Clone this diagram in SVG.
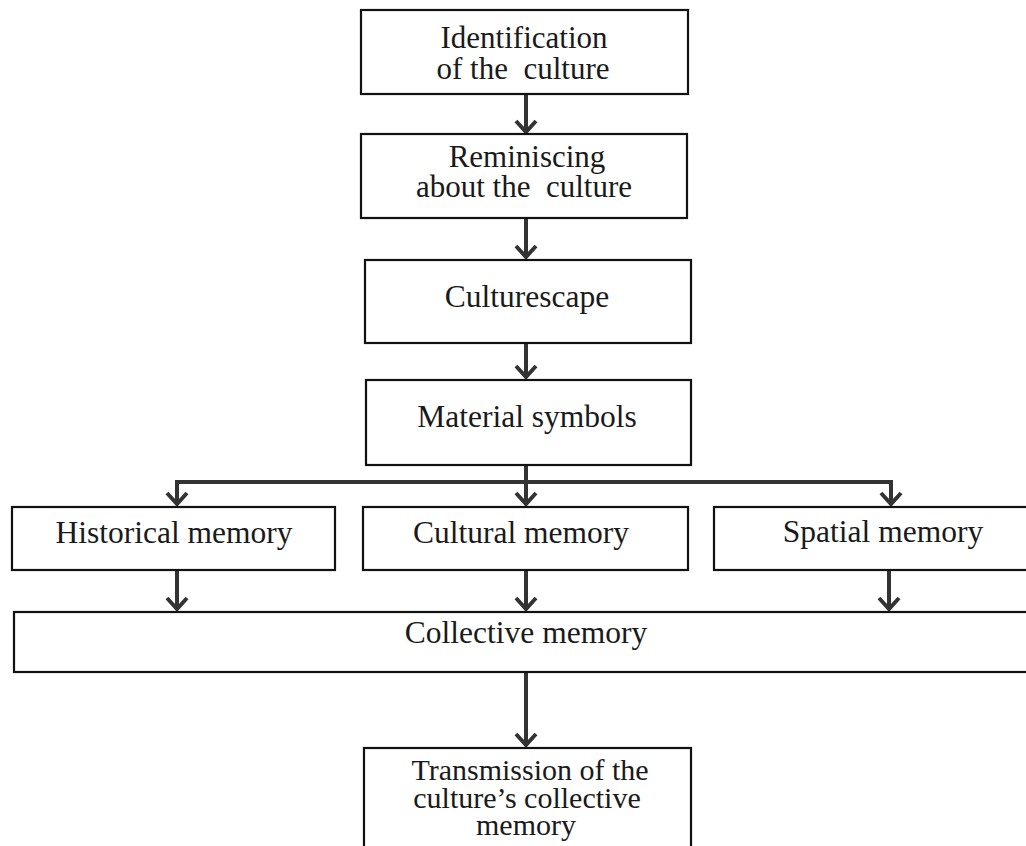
<svg xmlns="http://www.w3.org/2000/svg" width="1026" height="846" viewBox="0 0 1026 846">
<defs>
<style>
.box{fill:#fff;stroke:#111;stroke-width:2.2}
.t{font-family:"Liberation Serif","Times New Roman",serif;font-size:31.5px;fill:#1a1a1a;text-anchor:middle}
.m{font-size:31px}
.s{font-size:30px}
.c{fill:none;stroke:#333;stroke-width:4}
.h{fill:none;stroke:#333;stroke-width:4;stroke-linejoin:miter;stroke-linecap:butt}
</style>
</defs>
<rect width="1026" height="846" fill="#fff"/>
<g id="connectors">
<path class="c" d="M526,94 V133"/><path class="h" d="M516,121 L526,132 L536,121"/>
<path class="c" d="M526,218 V258"/><path class="h" d="M516,246 L526,257 L536,246"/>
<path class="c" d="M526,343 V378"/><path class="h" d="M516,366 L526,377 L536,366"/>
<path class="c" d="M526,465 V505"/><path class="h" d="M516,493 L526,504 L536,493"/>
<path class="c" d="M177,505 V482 H891 V505"/>
<path class="h" d="M167,493 L177,504 L187,493"/>
<path class="h" d="M881,493 L891,504 L901,493"/>
<path class="c" d="M177,570 V610"/><path class="h" d="M167,598 L177,609 L187,598"/>
<path class="c" d="M526,570 V610"/><path class="h" d="M516,598 L526,609 L536,598"/>
<path class="c" d="M889,570 V610"/><path class="h" d="M879,598 L889,609 L899,598"/>
<path class="c" d="M526,672 V746"/><path class="h" d="M516,734 L526,745 L536,734"/>
</g>
<g id="n1"><rect class="box" x="361" y="10" width="327" height="84"/>
<text class="t m" x="524" y="48">Identification</text>
<text class="t m" x="523" y="79" xml:space="preserve">of the  culture</text></g>
<g id="n2"><rect class="box" x="361" y="134" width="326" height="84"/>
<text class="t m" x="527" y="167">Reminiscing</text>
<text class="t m" x="524" y="197" xml:space="preserve">about the  culture</text></g>
<g id="n3"><rect class="box" x="365" y="260" width="326" height="83"/>
<text class="t" x="527" y="307">Culturescape</text></g>
<g id="n4"><rect class="box" x="366" y="380" width="325" height="85"/>
<text class="t" x="527" y="427">Material symbols</text></g>
<g id="n5"><rect class="box" x="12" y="507" width="323" height="63"/>
<text class="t" x="174" y="543">Historical memory</text></g>
<g id="n6"><rect class="box" x="363" y="507" width="325" height="63"/>
<text class="t" x="521" y="543">Cultural memory</text></g>
<g id="n7"><rect class="box" x="714" y="507" width="330" height="63"/>
<text class="t" x="883" y="542">Spatial memory</text></g>
<g id="n8"><rect class="box" x="14" y="612" width="1030" height="60"/>
<text class="t" x="526" y="643">Collective memory</text></g>
<g id="n9"><rect class="box" x="364" y="748" width="327" height="120"/>
<text class="t s" x="530" y="780">Transmission of the</text>
<text class="t s" x="527" y="808">culture’s collective</text>
<text class="t s" x="526" y="835">memory</text></g>
</svg>
